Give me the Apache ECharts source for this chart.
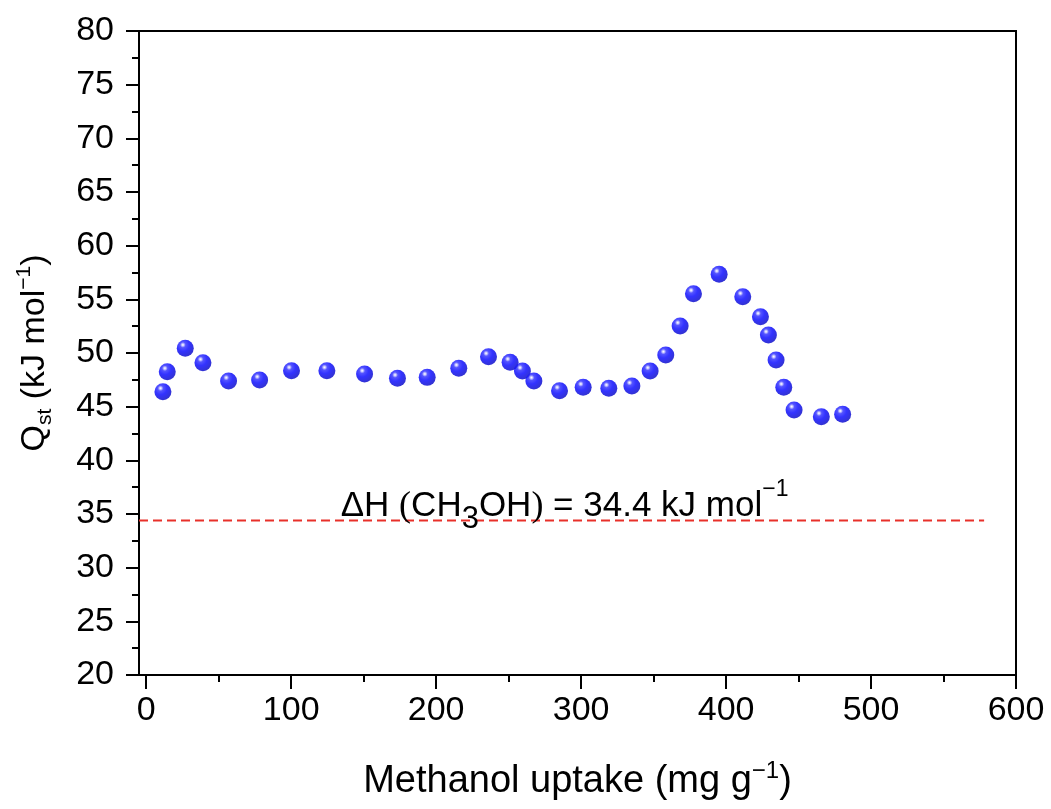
<!DOCTYPE html>
<html><head><meta charset="utf-8">
<script src="https://cdn.jsdelivr.net/npm/echarts@6/dist/echarts.min.js"></script>
<style>html,body{margin:0;padding:0;background:#fff}#c{width:1051px;height:809px}</style>
</head><body><div id="c"></div>
<script>
// ---- data ----
const uptake = [11.5, 14.5, 26.9, 39.1, 56.8, 78.2, 100.2, 124.6, 150.6, 173.3, 193.8, 215.6, 236.1, 251.0, 259.5, 267.4, 285.1, 301.4, 319.1, 335.0, 347.6, 358.4, 368.3, 377.5, 395.2, 411.5, 423.7, 429.2, 434.5, 439.8, 446.9, 465.7, 480.4];
const qst    = [46.4, 48.26, 50.44, 49.1, 47.39, 47.48, 48.35, 48.35, 48.04, 47.64, 47.73, 48.57, 49.65, 49.13, 48.32, 47.39, 46.49, 46.8, 46.71, 46.92, 48.32, 49.81, 52.51, 55.53, 57.33, 55.25, 53.38, 51.68, 49.35, 46.8, 44.69, 44.07, 44.29];
const xTicks = [0, 100, 200, 300, 400, 500, 600];
const xMinorTicks = [50, 150, 250, 350, 450, 550];
const yTicks = [20, 25, 30, 35, 40, 45, 50, 55, 60, 65, 70, 75, 80];
const dHValue = 34.4;
const dHRange = [-5, 578];
const dHLabelAt = [288.6, 35.7];

const FONT = 'Liberation Sans, Arial, sans-serif';
const chart = echarts.init(document.getElementById('c'), null, {renderer: 'canvas'});

const points = uptake.map((x, i) => [x, qst[i]]);

const sphere = {
  type: 'radial', x: 0.36, y: 0.3, r: 0.75,
  colorStops: [
    {offset: 0, color: '#ffffff'},
    {offset: 0.08, color: '#c4c4ff'},
    {offset: 0.22, color: '#2a2aff'},
    {offset: 0.5, color: '#0000ff'},
    {offset: 1, color: '#0000c0'}
  ]
};

chart.setOption({
  animation: false,
  backgroundColor: '#fff',
  grid: {left: 139, right: 35, top: 31, bottom: 134, show: true, borderColor: '#000', borderWidth: 2, backgroundColor: 'transparent'},
  xAxis: [{
    type: 'value', min: -5, max: 600, position: 'bottom',
    splitLine: {show: false},
    axisLine: {show: true, onZero: false, lineStyle: {color: '#000', width: 2}},
    axisTick: {show: true, length: 14, lineStyle: {color: '#000', width: 2}, customValues: xTicks},
    axisLabel: {customValues: xTicks, fontFamily: FONT, fontSize: 34, color: '#000', margin: 19},
    name: '{t|Methanol uptake (mg g}{sup|−1}{t|)}',
    nameLocation: 'middle', nameGap: 84,
    nameTextStyle: {rich: {
      t: {fontFamily: FONT, fontSize: 38, color: '#000', lineHeight: 46, verticalAlign: 'middle'},
      sup: {fontFamily: FONT, fontSize: 24, color: '#000', lineHeight: 30, verticalAlign: 'top'}
    }}
  }, {
    type: 'value', min: -5, max: 600, position: 'bottom', gridIndex: 0,
    splitLine: {show: false},
    axisLine: {show: false, onZero: false},
    axisTick: {show: true, length: 7, lineStyle: {color: '#000', width: 2}, customValues: xMinorTicks},
    axisLabel: {show: false}
  }],
  yAxis: {
    type: 'value', min: 20, max: 80, interval: 5,
    splitLine: {show: false},
    axisLine: {show: true, onZero: false, lineStyle: {color: '#000', width: 2}},
    axisTick: {show: true, length: 13, lineStyle: {color: '#000', width: 2}},
    minorTick: {show: true, splitNumber: 2, length: 7, lineStyle: {color: '#000', width: 2}},
    axisLabel: {customValues: yTicks, fontFamily: FONT, fontSize: 34, color: '#000', margin: 25},
    name: '{t|Q}{sub|st}{t| (kJ mol}{sup|−1}{t|)}',
    nameLocation: 'middle', nameGap: 83,
    nameTextStyle: {rich: {
      t: {fontFamily: FONT, fontSize: 34, color: '#000', lineHeight: 42, verticalAlign: 'middle'},
      sub: {fontFamily: FONT, fontSize: 21, color: '#000', lineHeight: 24, verticalAlign: 'bottom'},
      sup: {fontFamily: FONT, fontSize: 21, color: '#000', lineHeight: 27, verticalAlign: 'top'}
    }}
  },
  series: [{
    type: 'line', xAxisIndex: 0,
    data: [[dHRange[0], dHValue], [dHRange[1], dHValue]],
    symbol: 'none', silent: true, z: 1,
    lineStyle: {color: '#e8302a', width: 2, type: [9, 5]}
  }, {
    type: 'scatter', xAxisIndex: 0,
    data: [dHLabelAt], symbolSize: 0, silent: true, z: 3,
    itemStyle: {color: '#000', opacity: 1},
    label: {
      show: true, position: 'inside', color: '#000', opacity: 1,
      formatter: '{t|ΔH }{p|(}{t|CH}{sub|3}{t|OH}{p|)}{t| = 34.4 kJ mol}{sup|−1}',
      rich: {
        t: {fontFamily: FONT, fontSize: 35, color: '#000', lineHeight: 56, verticalAlign: 'middle'},
        p: {fontFamily: 'Liberation Serif, serif', fontSize: 36, color: '#000', lineHeight: 56, verticalAlign: 'middle'},
        sub: {fontFamily: FONT, fontSize: 31, color: '#000', lineHeight: 30, verticalAlign: 'bottom'},
        sup: {fontFamily: FONT, fontSize: 23, color: '#000', lineHeight: 36, verticalAlign: 'top'}
      }
    }
  }, {
    type: 'scatter', xAxisIndex: 0,
    data: points, symbol: 'circle', symbolSize: 17, z: 5,
    itemStyle: {color: sphere}
  }]
});
</script></body></html>
